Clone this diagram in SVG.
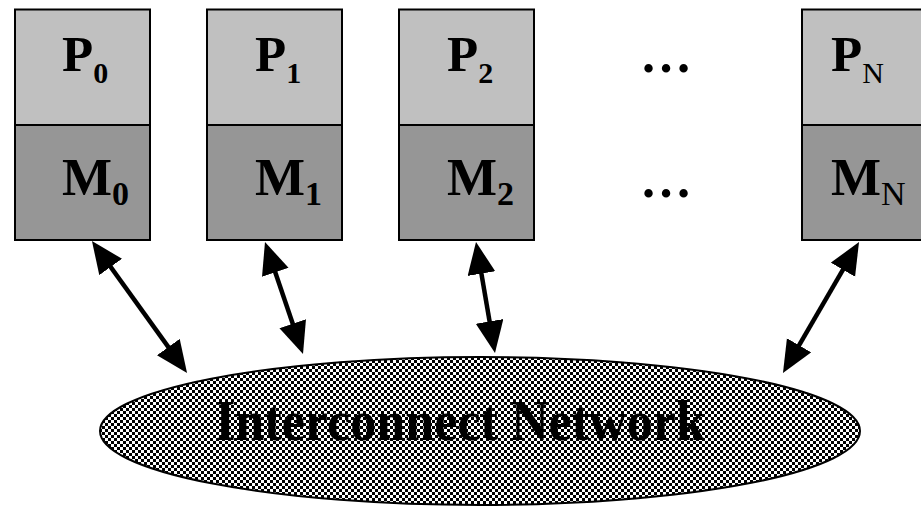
<svg xmlns="http://www.w3.org/2000/svg" width="921" height="506" viewBox="0 0 921 506">
<style>
.p{fill:#c0c0c0;stroke:#000;stroke-width:2}
.m{fill:#969696;stroke:#000;stroke-width:2}
.lp{font-family:"Liberation Serif","Times New Roman",serif;font-weight:bold;font-size:51px;fill:#000}
.lm{font-family:"Liberation Serif","Times New Roman",serif;font-weight:bold;font-size:53px;fill:#000}
.sp{font-size:30px}
.sm{font-size:34px}
.rn{font-weight:normal}
.dots{font-family:"Liberation Serif","Times New Roman",serif;font-weight:bold;font-size:52px;fill:#000;text-anchor:middle}
.conn{stroke:#000;stroke-width:4.5;fill:none;marker-start:url(#ah);marker-end:url(#ah)}
.net{font-family:"Liberation Serif","Times New Roman",serif;font-weight:bold;font-size:57px;fill:#000}
</style>
<defs>
<pattern id="chk" width="6" height="6" patternUnits="userSpaceOnUse">
<rect width="6" height="6" fill="#fff"/>
<rect width="3" height="3" fill="#000"/>
<rect x="3" y="3" width="3" height="3" fill="#000"/>
</pattern>
<marker id="ah" markerUnits="userSpaceOnUse" markerWidth="34" markerHeight="30" viewBox="0 0 34 30" refX="22" refY="14" orient="auto-start-reverse">
<path d="M0,0 L32,14 L0,28 z" fill="#000"/>
</marker>
</defs>
<rect width="921" height="506" fill="#fff"/>
<g id="network">
<ellipse cx="480" cy="431" rx="380" ry="74" fill="url(#chk)" stroke="#000" stroke-width="2"/>
<text class="net" x="460" y="440" text-anchor="middle" textLength="490" lengthAdjust="spacingAndGlyphs">Interconnect Network</text>
</g>
<g id="node0">
<rect class="p" x="15" y="9.5" width="135" height="115.5"/>
<rect class="m" x="15" y="125" width="135" height="115"/>
<text class="lp" x="62" y="71">P<tspan class="sp" dy="12">0</tspan></text>
<text class="lm" x="62" y="195">M<tspan class="sm" dy="10">0</tspan></text>
</g>
<g id="node1">
<rect class="p" x="207" y="9.5" width="135" height="115.5"/>
<rect class="m" x="207" y="125" width="135" height="115"/>
<text class="lp" x="255" y="71">P<tspan class="sp" dy="12">1</tspan></text>
<text class="lm" x="255" y="195">M<tspan class="sm" dy="10">1</tspan></text>
</g>
<g id="node2">
<rect class="p" x="399" y="9.5" width="135" height="115.5"/>
<rect class="m" x="399" y="125" width="135" height="115"/>
<text class="lp" x="447" y="71">P<tspan class="sp" dy="12">2</tspan></text>
<text class="lm" x="447" y="195">M<tspan class="sm" dy="10">2</tspan></text>
</g>
<g id="dots">
<text class="dots" x="666" y="72">…</text>
<text class="dots" x="666" y="197">…</text>
</g>
<g id="nodeN">
<rect class="p" x="802" y="9.5" width="135" height="115.5"/>
<rect class="m" x="802" y="125" width="135" height="115"/>
<text class="lp" x="831" y="71">P<tspan class="sp rn" dy="12">N</tspan></text>
<text class="lm" x="831" y="195">M<tspan class="sm rn" dy="10">N</tspan></text>
</g>
<g id="connectors">
<path class="conn" d="M97.8,249.1 L181.2,364.9"/>
<path class="conn" d="M268.2,251.5 L299.8,344.5"/>
<path class="conn" d="M477.7,251.9 L493.3,343.1"/>
<path class="conn" d="M854,250.7 L788,364.3"/>
</g>
</svg>
